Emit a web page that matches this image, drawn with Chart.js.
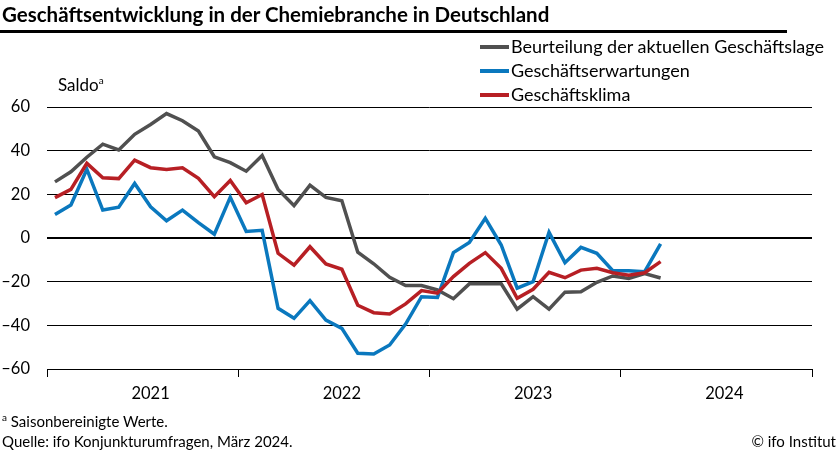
<!DOCTYPE html>
<html lang="de">
<head>
<meta charset="utf-8">
<script src="https://cdn.jsdelivr.net/npm/chart.js@4.4.1/dist/chart.umd.min.js"></script>
<style>
  html, body { margin: 0; padding: 0; background: #fff; }
  body { width: 840px; height: 452px; position: relative; overflow: hidden; font-family: Lato, sans-serif; color: #000; }
  #wrap { position: absolute; left: 0; top: 0; width: 840px; height: 452px; }
  .txt { position: absolute; white-space: nowrap; line-height: 1.2; }
  #title { left: 2px; top: 2px; font-size: 20.5px; font-weight: bold; }
  #rule { position: absolute; left: 0; top: 30px; width: 787px; height: 2.5px; background: #000; }
  #saldo { left: 58px; top: 74px; font-size: 17px; }
  #saldo sup, .fn sup { font-size: 10px; }
  .leg { position: absolute; left: 480px; font-size: 18px; }
  .leg i { display: inline-block; width: 29px; height: 4px; vertical-align: middle; margin-right: 2px; position: relative; top: -1px; }
  .fn { font-size: 15px; }
</style>
</head>
<body>
<div id="wrap"><canvas id="lineChart" width="840" height="452"></canvas></div>
<div class="txt" id="title">Geschäftsentwicklung in der Chemiebranche in Deutschland</div>
<div id="rule"></div>
<div class="txt" id="saldo">Saldo<sup>a</sup></div>
<div class="txt leg" style="top:36px"><i style="background:#505050"></i>Beurteilung der aktuellen Geschäftslage</div>
<div class="txt leg" style="top:60px"><i style="background:#0a78be"></i>Geschäftserwartungen</div>
<div class="txt leg" style="top:84px"><i style="background:#b71f24"></i>Geschäftsklima</div>
<div class="txt fn" style="left:2px; top:411px"><sup>a</sup> Saisonbereinigte Werte.</div>
<div class="txt fn" style="left:2px; top:432px">Quelle: ifo Konjunkturumfragen, März 2024.</div>
<div class="txt fn" style="right:4px; top:432px">© ifo Institut</div>
<script>
// Geschäftsentwicklung Chemie, monthly Jan 2021 - Mar 2024

const years = ["2021", "2022", "2023", "2024"];

const lage = [
  25.7, 30.3, 37, 43, 40.3, 47.5, 52, 57, 53.7, 49, 37.2, 34.5,
  30.6, 37.8, 22.2, 14.8, 24.2, 18.6, 17.1, -6.5, -11.8, -18, -21.8, -21.8,
  -23.8, -27.8, -21, -21, -21, -32.6, -26.9, -32.6, -24.8, -24.6, -20.3, -17.4,
  -18.5, -16.3, -18.3,
];
const erwartungen = [
  10.8, 15.1, 31.5, 12.8, 14.1, 25, 14.3, 7.9, 12.8, 7, 1.7, 18.7,
  3, 3.5, -32.2, -36.8, -28.7, -37.6, -41.4, -52.8, -53.1, -49, -39.4, -26.9,
  -27.2, -6.7, -2.1, 9, -3.2, -23, -20, 2.6, -11.3, -4.3, -7, -15,
  -15, -15.4, -2.7,
];
const klima = [
  18.5, 22.3, 34.2, 27.6, 27.2, 35.7, 32.2, 31.4, 32.2, 27.3, 18.9, 26.3,
  16.1, 19.9, -7, -12.4, -4, -11.9, -14.3, -30.8, -34.2, -34.8, -30.2, -24.1,
  -25.3, -17.7, -11.6, -6.7, -13.9, -27.6, -23.5, -15.7, -18.2, -14.7, -13.9, -15.9,
  -17, -15.9, -10.8,
];

// months placed in the middle of each month slot (0..48)
function toPoints(arr) {
  return arr.map((v, i) => ({ x: i + 0.5, y: v }));
}

const data = {
  datasets: [
    { label: "Geschäftsklima", data: toPoints(klima), borderColor: "#b71f24", order: 1 },
    { label: "Geschäftserwartungen", data: toPoints(erwartungen), borderColor: "#0a78be", order: 2 },
    { label: "Beurteilung der aktuellen Geschäftslage", data: toPoints(lage), borderColor: "#505050", order: 3 },
  ],
};

const config = {
  type: "line",
  data: data,
  options: {
    responsive: false,
    animation: false,
    layout: { padding: { top: 107, right: 28, left: 0, bottom: 0 } },
    elements: {
      line: { borderWidth: 3.5, tension: 0, borderJoinStyle: "miter", borderCapStyle: "butt" },
      point: { radius: 0 },
    },
    scales: {
      x: {
        type: "linear",
        min: 0,
        max: 48,
        // year boundaries get tick marks, year labels sit at July
        afterBuildTicks: (scale) => {
          scale.ticks = [0, 6.5, 12, 18.5, 24, 30.5, 36, 42.5, 48].map((v) => ({ value: v }));
        },
        afterFit: (scale) => { scale.height = 83; },
        border: { display: false },
        grid: {
          drawOnChartArea: false,
          tickLength: 8,
          tickWidth: 1,
          tickColor: (ctx) => (ctx.tick && ctx.tick.value % 12 === 0 ? "#000" : "rgba(0,0,0,0)"),
        },
        ticks: {
          autoSkip: false,
          maxRotation: 0,
          padding: 7,
          color: "#000",
          font: { family: "Lato", size: 16.5 },
          callback: function (value) {
            return value % 12 === 6.5 ? years[(value - 6.5) / 12] : "";
          },
        },
      },
      y: {
        min: -60,
        max: 60,
        afterFit: (scale) => { scale.width = 47; },
        border: { display: false },
        grid: {
          drawTicks: false,
          color: "#000",
          lineWidth: (ctx) => (ctx.tick && ctx.tick.value === 0 ? 2 : 1),
        },
        ticks: {
          stepSize: 20,
          padding: 17,
          color: "#000",
          font: { family: "Lato", size: 16.5 },
          callback: function (value) {
            return String(value).replace("-", "\u2013");
          },
        },
      },
    },
    plugins: {
      legend: { display: false },
      tooltip: { enabled: false },
    },
  },
};

const lineChart = new Chart(document.getElementById("lineChart").getContext("2d"), config);
</script>
</body>
</html>
